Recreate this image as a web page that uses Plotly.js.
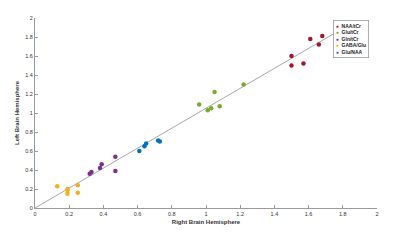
<!DOCTYPE html>
<html><head><meta charset="utf-8">
<script src="https://cdn.plot.ly/plotly-3.0.1.min.js"></script>
<style>html,body{margin:0;padding:0;background:#fff}#chart{width:400px;height:240px}</style>
</head><body><div id="chart"></div>
<script>
// Series (Right hemisphere = x, Left hemisphere = y)
const seriesNames = ["NAA/tCr", "Glu/tCr", "Gln/tCr", "GABA/Glu", "Glu/NAA"];
const seriesColors = ["#A2142F", "#77AC30", "#7E2F8E", "#EDB120", "#0072BD"];
const naaX = [1.50, 1.50, 1.57, 1.61, 1.66, 1.68];
const naaY = [1.60, 1.50, 1.52, 1.78, 1.72, 1.81];
const gluX = [0.96, 1.01, 1.03, 1.05, 1.08, 1.22];
const gluY = [1.09, 1.03, 1.05, 1.22, 1.07, 1.30];
const glnX = [0.32, 0.33, 0.38, 0.39, 0.47, 0.47];
const glnY = [0.36, 0.38, 0.42, 0.46, 0.54, 0.39];
const gabaX = [0.13, 0.19, 0.19, 0.19, 0.25, 0.25];
const gabaY = [0.23, 0.20, 0.185, 0.15, 0.24, 0.16];
const gluNaaX = [0.61, 0.64, 0.65, 0.72, 0.73];
const gluNaaY = [0.60, 0.65, 0.68, 0.71, 0.70];
// Fit line
const fitX = [0, 1.80];
const fitY = [0, 1.89];
const tickVals = [0, 0.2, 0.4, 0.6, 0.8, 1, 1.2, 1.4, 1.6, 1.8, 2];

const xs = [naaX, gluX, glnX, gabaX, gluNaaX];
const ys = [naaY, gluY, glnY, gabaY, gluNaaY];

const traces = [{
  x: fitX, y: fitY, mode: "lines", type: "scatter",
  line: {color: "#a6a6a6", width: 1}, showlegend: false, hoverinfo: "skip"
}];
for (let i = 0; i < xs.length; i++) {
  traces.push({
    x: xs[i], y: ys[i], mode: "markers", type: "scatter", name: seriesNames[i],
    marker: {color: seriesColors[i], size: 4.5}, showlegend: false
  });
}

const legendText = seriesNames.map((n, i) =>
  `<span style="color:${seriesColors[i]}">●</span>  <b>${n}</b>`).join("<br>");

const axisCommon = {
  range: [0, 2], tickvals: tickVals, ticks: "inside", ticklen: 3, tickwidth: 1,
  tickcolor: "#9a9a9a", showline: true, linecolor: "#9a9a9a", linewidth: 1,
  showgrid: false, zeroline: false,
  tickfont: {family: "Liberation Sans, Arial, sans-serif", size: 5.5, color: "#333"}
};

const layout = {
  width: 400, height: 240,
  margin: {l: 35, r: 23, t: 17.5, b: 32},
  paper_bgcolor: "#fff", plot_bgcolor: "#fff",
  xaxis: Object.assign({}, axisCommon, {
    title: {text: "<b>Right Brain Hemisphere</b>", standoff: 4,
      font: {family: "Liberation Sans, Arial, sans-serif", size: 6, color: "#333"}}
  }),
  yaxis: Object.assign({}, axisCommon, {
    title: {text: "<b>Left Brain Hemisphere</b>", standoff: 5,
      font: {family: "Liberation Sans, Arial, sans-serif", size: 6, color: "#333"}}
  }),
  annotations: [{
    xref: "paper", yref: "paper", x: 0.871, y: 0.987, xanchor: "left", yanchor: "top",
    text: legendText, showarrow: false, align: "left",
    bgcolor: "#fff", bordercolor: "#9a9a9a", borderwidth: 0.8, borderpad: 2,
    font: {family: "Liberation Sans, Arial, sans-serif", size: 5, color: "#222"}
  }],
  showlegend: false
};

Plotly.newPlot("chart", traces, layout, {displayModeBar: false, staticPlot: true});
</script></body></html>
